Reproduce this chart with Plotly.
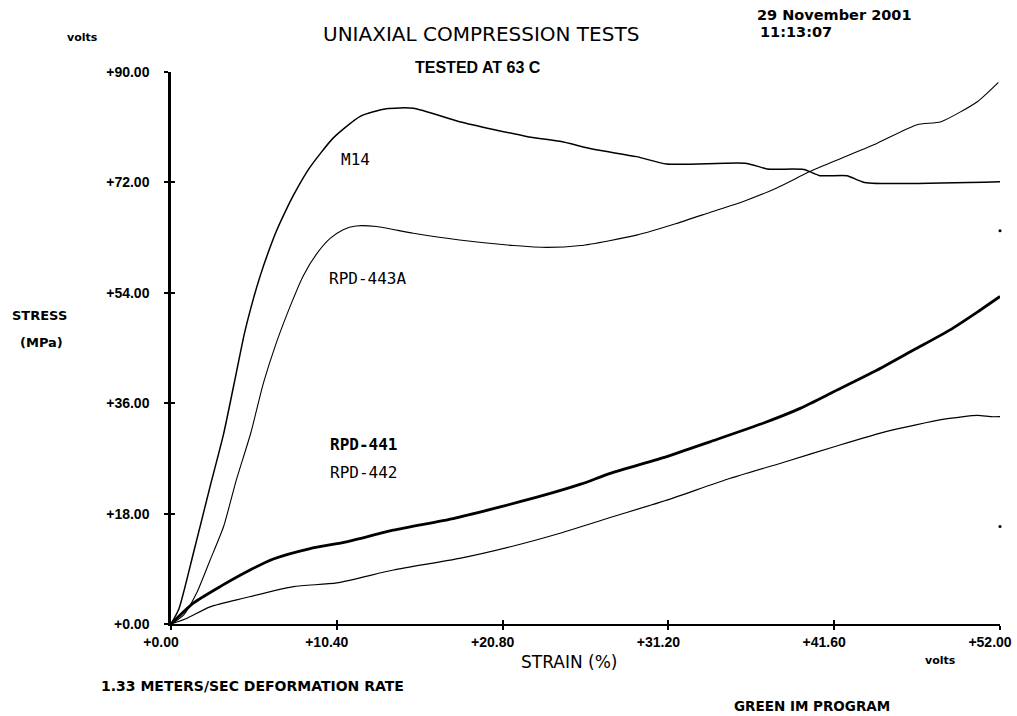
import plotly.graph_objects as go

# ---- data (strain %, stress MPa) ----
m14_x = [0, 0.5, 1.4, 2.45, 3.3, 4.1, 4.6, 5.1, 5.6, 6.1, 6.6, 7.2, 7.7, 8.7, 10.2, 11.9, 13.5, 15.2,
         18.1, 22.3, 24.4, 26.5, 29.2, 31.1, 36.1, 37.4, 39.7, 40.7, 42.4, 43.5, 52.0]
m14_y = [0, 2.5, 11.5, 22.4, 31.0, 41.0, 47.3, 52.4, 56.8, 60.6, 64.0, 67.4, 70.0, 74.4, 79.3, 82.8, 84.0, 84.1,
         81.9, 79.5, 78.7, 77.4, 76.2, 75.0, 75.1, 74.2, 74.1, 73.1, 73.1, 72.0, 72.1]

rpd443a_x = [0, 0.8, 1.6, 2.45, 3.3, 4.1, 5.0, 5.8, 6.6, 7.6, 8.3, 9.15, 10.0, 10.8, 11.6, 12.9, 15.2,
             18.1, 21.5, 23.6, 25.7, 27.5, 29.2, 31.7, 33.8, 35.9, 38.0, 40.1, 42.2, 44.3, 46.8,
             48.3, 50.6, 51.9]
rpd443a_y = [0, 1.5, 5.0, 10.4, 15.9, 23.5, 31.1, 39.3, 45.8, 52.6, 56.8, 60.4, 62.9, 64.3, 64.9, 64.8, 63.7,
             62.6, 61.7, 61.4, 61.7, 62.5, 63.4, 65.3, 67.1, 68.9, 71.1, 73.8, 76.1, 78.4, 81.4,
             81.9, 85.2, 88.3]

rpd441_x = [0, 1.4, 3.08, 4.96, 6.42, 8.73, 11.0, 13.95, 17.7, 20.65, 23.4, 25.7, 27.6, 31.1,
            33.8, 37.0, 39.5, 41.6, 44.3, 46.6, 48.9, 50.6, 52.0]
rpd441_y = [0, 3.4, 6.1, 8.8, 10.6, 12.3, 13.4, 15.3, 17.2, 19.1, 21.0, 22.8, 24.6, 27.3,
            29.7, 32.6, 35.2, 37.9, 41.4, 44.7, 48.0, 50.9, 53.4]

rpd442_x = [0, 0.98, 2.45, 4.54, 7.68, 10.4, 13.95, 18.1, 21.3, 24.4, 27.6, 31.1, 34.9, 38.6,
            41.6, 44.9, 48.5, 50.6, 51.4, 52.0]
rpd442_y = [0, 0.9, 2.8, 4.2, 6.1, 6.7, 8.8, 10.7, 12.6, 14.8, 17.4, 20.2, 23.6, 26.5,
            28.9, 31.4, 33.4, 34.0, 33.8, 33.8]

stray_x = [52.0, 52.0]
stray_y = [64.1, 15.9]

x_ticks = [0, 10.4, 20.8, 31.2, 41.6, 52.0]
x_tick_labels = ["+0.00", "+10.40", "+20.80", "+31.20", "+41.60", "+52.00"]
y_ticks = [0, 18, 36, 54, 72, 90]
y_tick_labels = ["+0.00", "+18.00", "+36.00", "+54.00", "+72.00", "+90.00"]

series = [
    ("M14", m14_x, m14_y, 1.5),
    ("RPD-443A", rpd443a_x, rpd443a_y, 1.1),
    ("RPD-441", rpd441_x, rpd441_y, 2.8),
    ("RPD-442", rpd442_x, rpd442_y, 1.2),
]

# label positions in data coordinates
label_pos = {
    "M14": (11.6, 75.7, False),
    "RPD-443A": (12.3, 56.4, False),
    "RPD-441": (12.1, 29.2, True),
    "RPD-442": (12.1, 24.7, False),
}

W, H = 1017, 716
L, R, T, B = 171, 17, 72, 92

fig = go.Figure()
for name, xs, ys, w in series:
    fig.add_trace(go.Scatter(x=xs, y=ys, mode="lines", name=name,
                             line=dict(color="black", width=w, shape="spline", smoothing=0.6),
                             showlegend=False, hoverinfo="skip"))
fig.add_trace(go.Scatter(x=stray_x, y=stray_y, mode="markers", cliponaxis=False,
                         marker=dict(color="black", size=3), showlegend=False, hoverinfo="skip"))

# overlay axes for inner half of crossing tick marks
fig.add_trace(go.Scatter(x=[0], y=[0], xaxis="x2", yaxis="y2", mode="markers",
                         marker=dict(opacity=0), showlegend=False, hoverinfo="skip"))

tick_font = dict(family="Liberation Sans", size=14, color="black", weight="bold")

fig.update_layout(
    width=W, height=H,
    margin=dict(l=L, r=R, t=T, b=B, autoexpand=False),
    paper_bgcolor="white", plot_bgcolor="white",
    xaxis=dict(range=[0, 52], tickvals=x_ticks, ticktext=x_tick_labels,
               showgrid=False, zeroline=False, showline=True, linecolor="black", linewidth=2,
               ticks="outside", ticklen=4, tickwidth=1.5, tickcolor="black",
               tickfont=tick_font, ticklabelstandoff=0, ticklabelshift=-10,
               ticklabeloverflow="allow", automargin=False, fixedrange=True),
    yaxis=dict(range=[0, 90], tickvals=y_ticks, ticktext=y_tick_labels,
               showgrid=False, zeroline=False, showline=True, linecolor="black", linewidth=2.5,
               ticks="outside", ticklen=4, tickwidth=1.5, tickcolor="black",
               tickfont=tick_font, ticklabelstandoff=12, automargin=False, fixedrange=True),
    xaxis2=dict(range=[0, 52], overlaying="x", tickvals=x_ticks, showticklabels=False,
                showgrid=False, zeroline=False, showline=False,
                ticks="inside", ticklen=4, tickwidth=1.5, tickcolor="black", fixedrange=True),
    yaxis2=dict(range=[0, 90], overlaying="y", tickvals=y_ticks, showticklabels=False,
                showgrid=False, zeroline=False, showline=False,
                ticks="inside", ticklen=4, tickwidth=1.5, tickcolor="black", fixedrange=True),
)


def px(xp, yp):
    return (xp - L) / (W - L - R), (H - B - yp) / (H - T - B)


def add_text(text, xp, yp, size, xanchor="center", bold=False, family="DejaVu Sans"):
    x, y = px(xp, yp)
    fig.add_annotation(text=text, x=x, y=y, xref="paper", yref="paper",
                       xanchor=xanchor, yanchor="middle", showarrow=False,
                       font=dict(family=family, size=size, color="black",
                                 weight="bold" if bold else "normal"))


add_text("UNIAXIAL COMPRESSION TESTS", 481, 34, 20)
add_text("TESTED AT 63 C", 478, 68, 16, bold=True, family="Liberation Sans")
add_text("29 November 2001", 755, 15, 14.5, xanchor="left", bold=True)
add_text("11:13:07", 758, 32, 14.5, xanchor="left", bold=True)
add_text("volts", 82, 37, 11, bold=True)
add_text("STRESS", 10, 315, 13, xanchor="left", bold=True)
add_text("(MPa)", 18, 342, 13, xanchor="left", bold=True)
add_text("STRAIN (%)", 569, 662, 17)
add_text("volts", 940, 660, 11, bold=True)
add_text("1.33 METERS/SEC DEFORMATION RATE", 99, 686, 14, xanchor="left", bold=True)
add_text("GREEN IM PROGRAM", 812, 706, 13.5, bold=True)

for name, (lx, ly, bold) in label_pos.items():
    fig.add_annotation(text=name, x=lx, y=ly, xref="x", yref="y", showarrow=False,
                       xanchor="center", yanchor="middle",
                       font=dict(family="DejaVu Sans Mono", size=16, color="black",
                                 weight="bold" if bold else "normal"))

fig.write_html("out.html", config={"displayModeBar": False},
               post_script="document.body.style.margin='0';document.body.style.overflow='hidden';")
